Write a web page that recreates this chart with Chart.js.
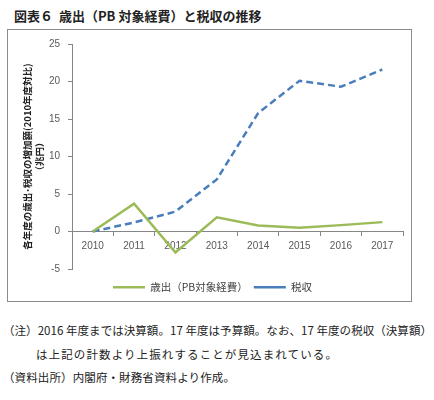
<!DOCTYPE html>
<html><head><meta charset="utf-8">
<script src="https://cdn.jsdelivr.net/npm/chart.js@4/dist/chart.umd.min.js"></script>
<style>
html,body{margin:0;padding:0;background:#fff;width:434px;height:400px;overflow:hidden;font-family:"Noto Sans CJK JP","Noto Sans",sans-serif;}
#title{position:absolute;left:14px;top:6px;font-size:13px;font-weight:bold;color:#222;white-space:nowrap;line-height:20px;}
#box{position:absolute;left:7px;top:29px;width:405px;height:273px;border:1.5px solid #8c8c8c;box-sizing:border-box;}
#wrap{position:absolute;left:8px;top:30px;width:404px;height:280px;}
.note{position:absolute;font-size:11.5px;color:#222;white-space:nowrap;line-height:16px;}
</style></head><body>
<div id="title">図表６&nbsp;&nbsp;歳出（PB 対象経費）と税収の推移</div>
<div id="box"></div>
<div id="wrap"><canvas id="c"></canvas></div>
<div class="note" data-w="429" style="left:3px;top:322px;">（注）2016 年度までは決算額。17 年度は予算額。なお、17 年度の税収（決算額）</div>
<div class="note" data-w="302" style="left:36px;top:346px;">は上記の計数より上振れすることが見込まれている。</div>
<div class="note" data-w="232" style="left:3px;top:369px;">（資料出所）内閣府・財務省資料より作成。</div>
<script>
const categories = ['2010','2011','2012','2013','2014','2015','2016','2017'];
const expenditure = [0, 3.7, -2.8, 1.9, 0.8, 0.5, 0.85, 1.25];
const taxRevenue = [0, 1.2, 2.65, 6.95, 15.8, 20.1, 19.3, 21.6];
const seriesNames = ['歳出（PB対象経費）', '税収'];
const yTitle = ['各年度の歳出･税収の増加額(2010年度対比)', '（兆円）'];
const yMin = -5, yMax = 25, yStep = 5;

document.querySelectorAll('.note').forEach(el => {
  const target = +el.dataset.w;
  const n = el.textContent.length;
  const w = el.getBoundingClientRect().width;
  el.style.letterSpacing = ((target - w) / n) + 'px';
});

const axisColor = '#868686';
new Chart(document.getElementById('c'), {
  type: 'line',
  data: {
    labels: categories,
    datasets: [
      {label: seriesNames[0], data: expenditure, borderColor: '#9BBB59', backgroundColor: '#9BBB59', borderWidth: 2.5, pointRadius: 0, tension: 0},
      {label: seriesNames[1], data: taxRevenue, borderColor: '#4A7EBB', backgroundColor: '#4A7EBB', borderWidth: 2.5, borderDash: [7,4], pointRadius: 0, tension: 0}
    ]
  },
  options: {
    responsive: true, maintainAspectRatio: false, animation: false,
    layout: {padding: {left: 14, right: 9, top: 11, bottom: 7.5}},
    plugins: {
      tooltip: {enabled: false},
      legend: {
        position: 'bottom',
        title: {display: true, text: ' ', font: {size: 1, lineHeight: 1}, padding: {top: 6, bottom: 0}},
        labels: {usePointStyle: true, pointStyle: 'line', pointStyleWidth: 32, color: '#404040', font: {size: 10.5, family: '"Noto Sans CJK JP"'}, padding: 6}
      }
    },
    scales: {
      x: {
        position: {y: 0},
        offset: true,
        grid: {offset: true, drawOnChartArea: false, drawTicks: true, tickLength: 4, color: axisColor},
        border: {color: axisColor, width: 1},
        ticks: {color: '#595959', font: {size: 10, family: '"Liberation Sans"'}, padding: 5, maxRotation: 0}
      },
      y: {
        min: yMin, max: yMax,
        afterFit: (s) => { s.width = 50; },
        grid: {drawOnChartArea: false, drawTicks: true, tickLength: 4, color: axisColor},
        border: {color: axisColor, width: 1},
        ticks: {stepSize: yStep, color: '#595959', font: {size: 10, family: '"Liberation Sans"'}, padding: 8},
        title: {display: true, text: yTitle, color: '#222', font: {size: 9.5, weight: 'bold', family: '"Noto Sans CJK JP"', lineHeight: 1.3}, padding: {top: -1, bottom: 0}}
      }
    }
  }
});
</script>
</body></html>
